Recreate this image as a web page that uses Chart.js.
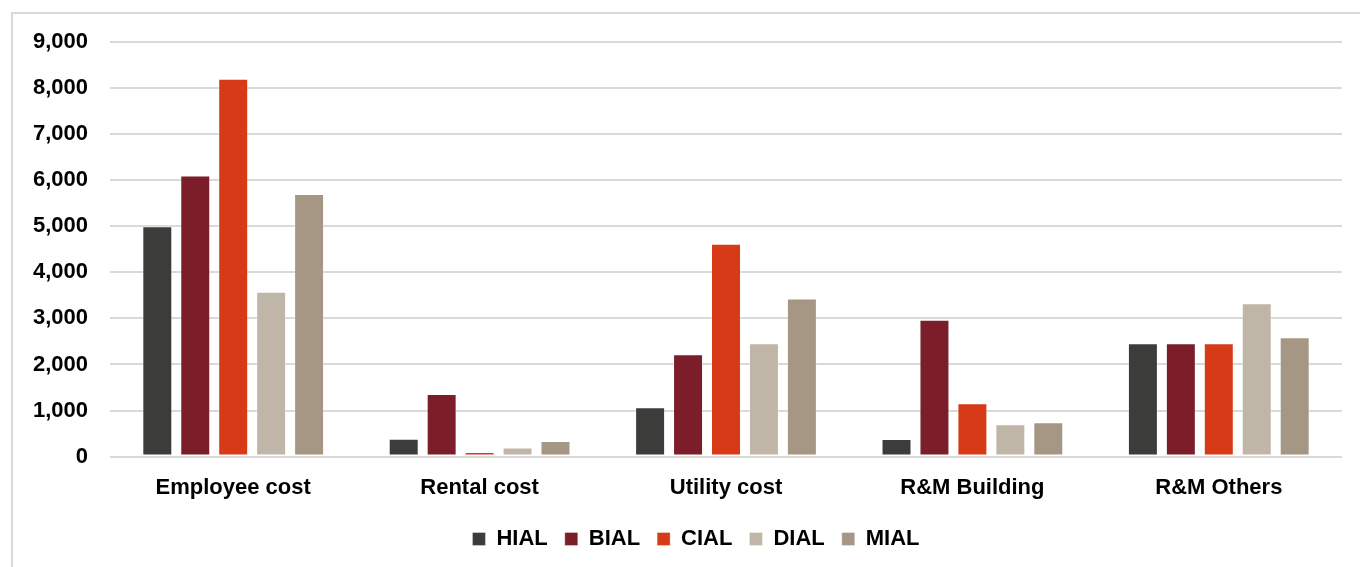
<!DOCTYPE html>
<html>
<head>
<meta charset="utf-8">
<script src="https://cdn.jsdelivr.net/npm/chart.js@4/dist/chart.umd.min.js"></script>
<style>
  html, body { margin:0; padding:0; background:#fff; }
  body { width:1360px; height:567px; position:relative; overflow:hidden; }
  .frame { position:absolute; left:11px; top:12px; width:1400px; height:600px;
           border-left:2px solid #d9d9d9; border-top:2px solid #d9d9d9; }
  .wrap { position:absolute; left:0; top:0; width:1360px; height:567px; }
</style>
</head>
<body>
<div class="frame"></div>
<div class="wrap"><canvas id="costChart" width="1360" height="567"></canvas></div>
<script>
// categories and series
var categories = ['Employee cost', 'Rental cost', 'Utility cost', 'R&M Building', 'R&M Others'];
var seriesNames = ['HIAL', 'BIAL', 'CIAL', 'DIAL', 'MIAL'];
var hial = [5000, 385, 1070, 380, 2460];
var bial = [6100, 1360, 2220, 2970, 2460];
var cial = [8200, 100, 4620, 1160, 2460];
var dial = [3580, 200, 2460, 700, 3330];
var mial = [5700, 340, 3430, 745, 2590];
var yTicks = [0, 1000, 2000, 3000, 4000, 5000, 6000, 7000, 8000, 9000];

var colors = ['#3c3c3a', '#7b1e2a', '#d73a16', '#bfb6a8', '#a69784'];
var seriesValues = [hial, bial, cial, dial, mial];

var font = { family: '"Liberation Sans", Arial, sans-serif', size: 22, weight: 'bold' };

var datasets = seriesNames.map(function (name, i) {
    return {
        label: name,
        data: seriesValues[i],
        backgroundColor: colors[i],
        borderColor: 'rgba(255,255,255,0.35)',
        borderWidth: 1,
        borderSkipped: false,
        categoryPercentage: 0.77,
        barPercentage: 0.79
    };
});

// legend in the original sits a bit right of the canvas centre
var legendShift = {
    id: 'legendShift',
    afterLayout: function (chart) {
        if (chart.legend) { chart.legend.left += 25; chart.legend.right += 25; }
    }
};

new Chart(document.getElementById('costChart'), {
    type: 'bar',
    data: { labels: categories, datasets: datasets },
    plugins: [legendShift],
    options: {
        responsive: false,
        animation: false,
        maintainAspectRatio: false,
        layout: { padding: { left: 0, right: 18, top: 42, bottom: 7 } },
        plugins: {
            legend: {
                position: 'bottom',
                labels: { color: '#000', font: font, boxWidth: 13, boxHeight: 13, padding: 17 }
            },
            tooltip: { enabled: false }
        },
        scales: {
            x: {
                grid: { display: false },
                border: { display: false },
                ticks: { color: '#000', font: font, padding: 10, maxRotation: 0 }
            },
            y: {
                min: 0, max: 9000,
                afterBuildTicks: function (s) { s.ticks = yTicks.map(function (v) { return { value: v }; }); },
                afterFit: function (s) { s.width = 110; },
                grid: { color: '#d9d9d9', lineWidth: 2, drawTicks: false },
                border: { display: false },
                ticks: {
                    color: '#000', font: font, padding: 22,
                    callback: function (v) { return v.toLocaleString('en-US'); }
                }
            }
        }
    }
});
</script>
</body>
</html>
